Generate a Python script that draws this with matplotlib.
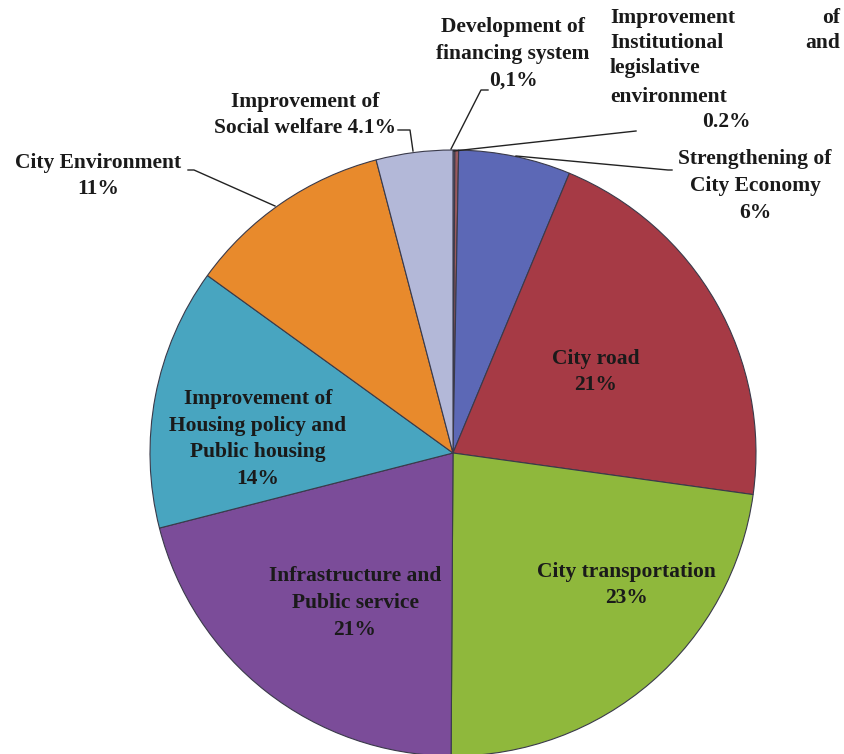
import matplotlib.pyplot as plt

# shares of the budget, clockwise from the top
sectors = ["Development of financing system", "Institutional and legislative environment",
           "Strengthening of City Economy", "City road", "City transportation",
           "Infrastructure and Public service", "Housing policy and Public housing",
           "City Environment", "Social welfare"]
shares = [0.1, 0.2, 6, 21, 23, 21, 14, 11, 4.1]
colors = ["#8a8aa8", "#9a5a5e", "#5c68b6", "#a63a45", "#8fb83c",
          "#7b4c99", "#48a5c0", "#e88a2c", "#b3b8d8"]

W, H = 844, 754
fig = plt.figure(figsize=(W / 100, H / 100), dpi=100)
ax = fig.add_axes([0, 0, 1, 1])

def py(y):
    # picture rows counted from the top
    return H - y

cx, cy, r = 453, 453, 303
ax.pie(shares, colors=colors, startangle=90, counterclock=False,
       center=(cx, py(cy)), radius=r, frame=True,
       wedgeprops=dict(edgecolor="#3a3a4a", linewidth=0.8))
ax.set_xlim(0, W)
ax.set_ylim(0, H)
ax.set_aspect("equal")
ax.axis("off")

font = dict(family="Liberation Serif", fontweight="bold", fontsize=15.5,
            color="#1a1a1a")

def label(x, y, s, ha="center"):
    ax.text(x, py(y), s, ha=ha, va="center", linespacing=1.45, **font)

def leader(pts):
    ax.plot([p[0] for p in pts], [py(p[1]) for p in pts],
            color="#222222", lw=1.0)

# labels outside the pie
label(513, 54, "Development of\nfinancing system\n0,1%")
leader([(488, 90), (481, 90), (451, 149)])

label(610, 18, "Improvement", ha="left")
label(840, 18, "of", ha="right")
label(610, 43, "Institutional", ha="left")
label(840, 43, "and", ha="right")
label(610, 68, "legislative", ha="left")
label(610, 97, "environment", ha="left")
label(726, 122, "0.2%")
leader([(636, 131), (454, 151)])

label(755, 186, "Strengthening of\nCity Economy\n6%")
leader([(672, 170), (668, 170), (516, 156)])

label(98, 176, "City Environment\n11%")
label(305, 115, "Improvement of\nSocial welfare 4.1%")
leader([(188, 170), (194, 170), (275, 206)])
leader([(398, 130), (410, 130), (413, 151)])

# labels inside the pie
label(596, 372, "City road\n21%")
label(626, 585, "City transportation\n23%")
label(355, 603, "Infrastructure and\nPublic service\n21%")
label(258, 439, "Improvement of\nHousing policy and\nPublic housing\n14%")

fig.savefig("out.png", dpi=100, facecolor="white")
